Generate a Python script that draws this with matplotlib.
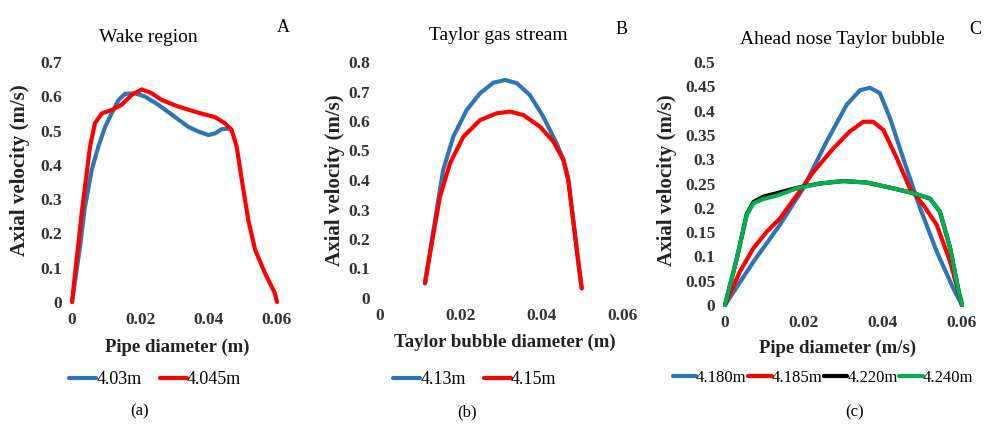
import numpy as np
import matplotlib
matplotlib.use("Agg")
import matplotlib.pyplot as plt
from matplotlib.ticker import FuncFormatter

# (a) wake region
a_blue_x = [0, 0.00234, 0.0038, 0.00576, 0.0077, 0.0097, 0.0116, 0.0136, 0.0155, 0.0184, 0.0214,
            0.0253, 0.0301, 0.034, 0.037, 0.0399, 0.0419, 0.0438, 0.0457, 0.0467]
a_blue_y = [0, 0.161, 0.278, 0.385, 0.453, 0.511, 0.55, 0.589, 0.607, 0.609, 0.599,
            0.575, 0.540, 0.511, 0.497, 0.487, 0.492, 0.504, 0.506, 0.502]
a_red_x = [0, 0.00284, 0.00527, 0.0067, 0.0087, 0.0116, 0.0145, 0.0175, 0.0204, 0.0233, 0.0263,
           0.0311, 0.037, 0.0419, 0.0448, 0.0467, 0.0482, 0.0497, 0.0516, 0.0536, 0.0565,
           0.0594, 0.06]
a_red_y = [0, 0.259, 0.453, 0.521, 0.55, 0.56, 0.575, 0.604, 0.620, 0.609, 0.589,
           0.570, 0.552, 0.539, 0.521, 0.502, 0.453, 0.356, 0.239, 0.152, 0.084,
           0.025, 0]

# (b) Taylor gas stream
b_blue_x = [0.0111, 0.0123, 0.014, 0.0156, 0.0181, 0.0214, 0.0247, 0.028, 0.0309, 0.0338, 0.037,
            0.0403, 0.0436, 0.0453, 0.0465, 0.0477, 0.049, 0.0498]
b_blue_y = [0.050, 0.152, 0.298, 0.434, 0.547, 0.637, 0.694, 0.730, 0.739, 0.728, 0.688,
            0.615, 0.524, 0.468, 0.40, 0.264, 0.118, 0.033]
b_red_x = [0.0111, 0.0132, 0.0148, 0.0173, 0.0206, 0.0247, 0.0288, 0.0321, 0.0354, 0.0395,
           0.0428, 0.0453, 0.0465, 0.0477, 0.049, 0.0498]
b_red_y = [0.050, 0.219, 0.343, 0.457, 0.547, 0.603, 0.626, 0.632, 0.62, 0.581,
           0.530, 0.468, 0.40, 0.264, 0.118, 0.033]

# (c) ahead nose Taylor bubble
c_blue_x = [0, 0.0072, 0.0139, 0.0198, 0.0257, 0.0308, 0.0342, 0.0367, 0.0392, 0.0418, 0.0451,
            0.0494, 0.0536, 0.0578, 0.06]
c_blue_y = [0, 0.089, 0.165, 0.24, 0.336, 0.412, 0.442, 0.447, 0.436, 0.384, 0.302,
            0.199, 0.11, 0.034, 0]
c_red_x = [0, 0.0038, 0.0072, 0.0106, 0.0139, 0.0182, 0.0224, 0.0274, 0.0316, 0.035, 0.0375,
           0.0401, 0.0435, 0.0468, 0.0502, 0.0536, 0.057, 0.0595, 0.06]
c_red_y = [0, 0.069, 0.117, 0.151, 0.178, 0.226, 0.274, 0.322, 0.357, 0.377, 0.377,
           0.36, 0.302, 0.24, 0.206, 0.165, 0.089, 0.014, 0]
c_black_x = [0, 0.003, 0.0055, 0.0072, 0.0097, 0.0131, 0.0182, 0.024, 0.0299, 0.0359, 0.0426,
             0.0477, 0.0519, 0.0544, 0.057, 0.059, 0.06]
c_black_y = [0, 0.096, 0.187, 0.212, 0.223, 0.230, 0.241, 0.25, 0.255, 0.252, 0.24,
             0.23, 0.219, 0.192, 0.117, 0.034, 0]
c_green_x = c_black_x
c_green_y = [0, 0.096, 0.185, 0.209, 0.218, 0.225, 0.240, 0.25, 0.255, 0.252, 0.24,
             0.23, 0.219, 0.192, 0.117, 0.034, 0]

BLUE = "#2e75b6"
RED = "#ff0000"
GREEN = "#00b050"
plt.rcParams["font.family"] = ["Liberation Serif", "DejaVu Serif"]

W, H = 988, 426
fig = plt.figure(figsize=(W / 100, H / 100), dpi=100)


def box(l, r, t, b):
    return [l / W, 1 - b / H, (r - l) / W, (b - t) / H]


def fmt(v, pos):
    return f"{v:.2f}".rstrip("0").rstrip(".")


def style(ax, ymax, ystep):
    ax.set_xlim(0, 0.06)
    ax.set_ylim(0, ymax)
    ax.set_xticks([0, 0.02, 0.04, 0.06])
    ax.set_yticks(np.arange(0, ymax + ystep / 2, ystep))
    ax.xaxis.set_major_formatter(FuncFormatter(fmt))
    ax.yaxis.set_major_formatter(FuncFormatter(fmt))
    ax.tick_params(length=0, labelsize=12.5, pad=7)
    for lab in ax.get_xticklabels() + ax.get_yticklabels():
        lab.set_fontweight("bold")
        lab.set_color("#333333")
    for sp in ax.spines.values():
        sp.set_visible(False)
    ax.patch.set_alpha(0)


def labels(ax, xtext, xpos, ypos):
    ax.set_xlabel(xtext, fontsize=13.5, fontweight="bold", color="#222222")
    ax.set_ylabel("Axial velocity (m/s)", fontsize=15, fontweight="bold", color="#222222")
    ax.xaxis.set_label_coords(*xpos)
    ax.yaxis.set_label_coords(*ypos)
    ax.xaxis.label.set_va("center")
    ax.yaxis.label.set_va("center")


kw = dict(lw=3.0, solid_capstyle="round", solid_joinstyle="round", clip_on=False)
leg_kw = dict(frameon=False, fontsize=13, handlelength=1.5, handletextpad=0.0,
              bbox_transform=fig.transFigure, loc="center")

# panel a
ax1 = fig.add_axes(box(72, 277, 62, 302))
ax1.plot(a_blue_x, a_blue_y, color=BLUE, label="4.03m", **kw)
ax1.plot(a_red_x, a_red_y, color=RED, label="4.045m", **kw)
style(ax1, 0.7, 0.1)
labels(ax1, "Pipe diameter (m)", (0.512, -0.19), (-0.254, 0.55))
ax1.legend(bbox_to_anchor=(155 / W, 1 - 380 / H), ncol=2, columnspacing=1.0, **leg_kw)

# panel b
ax2 = fig.add_axes(box(380, 623, 62, 298))
ax2.plot(b_blue_x, b_blue_y, color=BLUE, label="4.13m", **kw)
ax2.plot(b_red_x, b_red_y, color=RED, label="4.15m", **kw)
style(ax2, 0.8, 0.1)
labels(ax2, "Taylor bubble diameter (m)", (0.514, -0.19), (-0.185, 0.5))
ax2.legend(bbox_to_anchor=(475 / W, 1 - 380 / H), ncol=2, columnspacing=1.0, **leg_kw)

# panel c
ax3 = fig.add_axes(box(725, 962, 62, 305))
ax3.plot(c_blue_x, c_blue_y, color=BLUE, label="4.180m", **kw)
ax3.plot(c_red_x, c_red_y, color=RED, label="4.185m", **kw)
ax3.plot(c_black_x, c_black_y, color="black", label="4.220m", **kw)
ax3.plot(c_green_x, c_green_y, color=GREEN, label="4.240m", **kw)
style(ax3, 0.5, 0.05)
labels(ax3, "Pipe diameter (m/s)", (0.477, -0.177), (-0.245, 0.514))
leg3 = dict(leg_kw, fontsize=12, handlelength=1.4)
ax3.legend(bbox_to_anchor=(823 / W, 1 - 378 / H), ncol=4, columnspacing=0.1, **leg3)

# titles, panel letters, captions
fig.text(148 / W, 1 - 38 / H, "Wake region", ha="center", va="center", fontsize=14)
fig.text(283 / W, 1 - 27 / H, "A", ha="center", va="center", fontsize=13)
fig.text(498 / W, 1 - 36 / H, "Taylor gas stream", ha="center", va="center", fontsize=14)
fig.text(622 / W, 1 - 29 / H, "B", ha="center", va="center", fontsize=13)
fig.text(842 / W, 1 - 40 / H, "Ahead nose Taylor bubble", ha="center", va="center", fontsize=14)
fig.text(975 / W, 1 - 29 / H, "C", ha="center", va="center", fontsize=13)
fig.text(140 / W, 1 - 411 / H, "(a)", ha="center", va="center", fontsize=12)
fig.text(467 / W, 1 - 412 / H, "(b)", ha="center", va="center", fontsize=12)
fig.text(855 / W, 1 - 412 / H, "(c)", ha="center", va="center", fontsize=12)

fig.savefig("out.png", dpi=100, facecolor="white")
